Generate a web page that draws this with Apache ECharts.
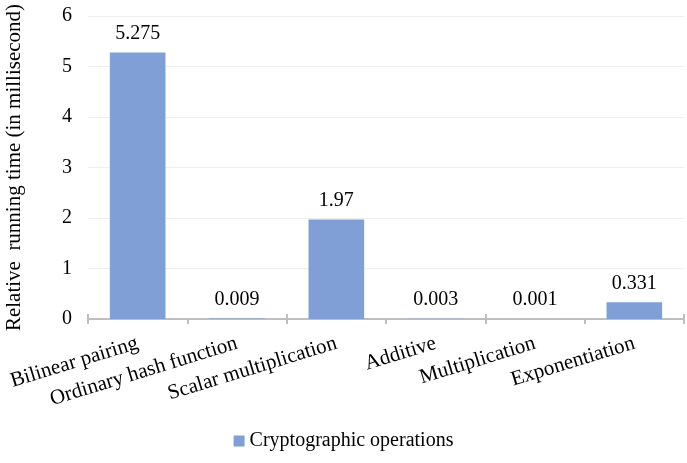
<!DOCTYPE html>
<html>
<head>
<meta charset="utf-8">
<script src="https://cdn.jsdelivr.net/npm/echarts@6/dist/echarts.min.js"></script>
<style>
  html, body { margin: 0; padding: 0; background: #fff; }
  #chart { width: 687px; height: 463px; }
</style>
</head>
<body>
<div id="chart"></div>
<script type="text/javascript">
	var categories = ['Bilinear pairing', 'Ordinary hash function', 'Scalar multiplication', 'Additive', 'Multiplication', 'Exponentiation'];
	var times = [5.275, 0.009, 1.97, 0.003, 0.001, 0.331];
	var seriesName = 'Cryptographic operations';
	var valueLabels = ['5.275', '0.009', '1.97', '0.003', '0.001', '0.331'];

	var serif = '"Liberation Serif", "Times New Roman", serif';
	var myChart = echarts.init(document.getElementById('chart'));

	var option = {
		textStyle: { fontFamily: serif },
		grid: { left: 88, right: 3, top: 16, bottom: 144, outerBoundsMode: 'none' },
		legend: {
			bottom: 7,
			left: 'center',
			itemWidth: 11,
			itemHeight: 11,
			itemGap: 4,
			textStyle: { fontFamily: serif, fontSize: 20, color: '#000' },
			data: [{ name: seriesName, icon: 'rect' }]
		},
		xAxis: [{
			type: 'category',
			data: categories,
			position: 'bottom',
			axisLine: { lineStyle: { color: '#bfbfbf', width: 2 } },
			axisTick: { show: true, length: 5, lineStyle: { color: '#bfbfbf', width: 2 } },
			axisLabel: {
				rotate: 17,
				interval: 0,
				margin: 24,
				fontFamily: serif,
				fontSize: 21,
				color: '#000'
			}
		}, {
			// inner half of the tick marks
			type: 'category',
			data: categories,
			position: 'bottom',
			offset: 0,
			axisLine: { show: false },
			axisTick: { show: true, inside: true, length: 5, lineStyle: { color: '#bfbfbf', width: 2 } },
			axisLabel: { show: false }
		}],
		yAxis: {
			type: 'value',
			min: 0,
			max: 6,
			interval: 1,
			name: 'Relative  running time (in millisecond)',
			nameLocation: 'middle',
			nameGap: 63,
			nameTextStyle: { fontFamily: serif, fontSize: 21, color: '#000' },
			axisLine: { show: false },
			axisTick: { show: false },
			axisLabel: { fontFamily: serif, fontSize: 20, color: '#000', margin: 16 },
			splitLine: { lineStyle: { color: '#eeeeee', width: 1 } }
		},
		series: [{
			name: seriesName,
			type: 'bar',
			data: times,
			barWidth: '56%',
			itemStyle: { color: '#7f9fd6' },
			label: {
				show: true,
				position: 'top',
				distance: 9,
				fontFamily: serif,
				fontSize: 20,
				color: '#000',
				formatter: function (p) { return valueLabels[p.dataIndex]; }
			}
		}]
	};

	myChart.setOption(option);
</script>
</body>
</html>
